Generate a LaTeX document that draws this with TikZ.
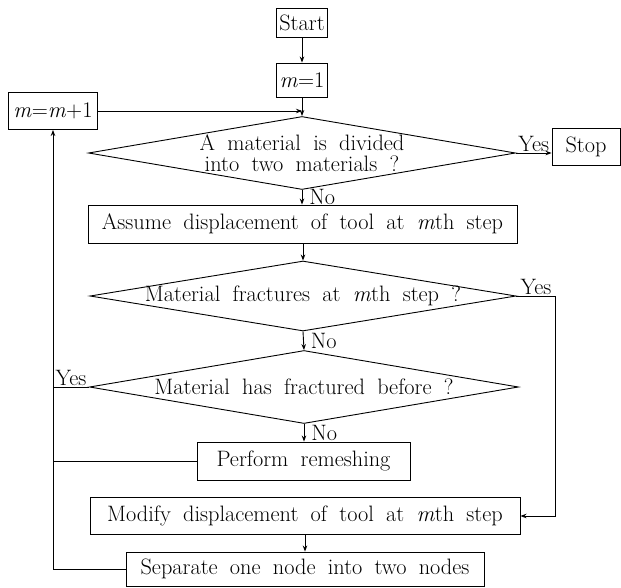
\documentclass[tikz,border=0pt]{standalone}
\usetikzlibrary{shapes.geometric,arrows.meta}
\newcommand\flowfont{\fontsize{22.3}{21.5}\selectfont\spaceskip=.55em\relax}
\begin{document}
\begin{tikzpicture}[x=1pt,y=1pt,
  every node/.style={font=\flowfont},
  box/.style={draw,line width=0.9pt,inner sep=0pt,align=center},
  dia/.style={draw,diamond,line width=0.9pt,inner sep=0pt},
  txt/.style={inner sep=0pt,align=center},
  lab/.style={inner sep=1pt},
  nolab/.style={anchor=west,xshift=7pt,inner sep=0pt},
  arr/.style={line width=0.9pt,-{Stealth[length=6pt,width=4.5pt]}},
  ln/.style={line width=0.9pt}]
\useasboundingbox (0,0) rectangle (621,-587);
\node[box,minimum width=51pt,minimum height=29pt] (start) at (302,-23) {Start};
\node[box,minimum width=51pt,minimum height=34pt] (m1) at (302,-80) {\textit{m}=1};
\node[box,minimum width=89pt,minimum height=37pt] (mm1) at (53,-111) {\textit{m}=\textit{m}+1};
\node[dia,minimum width=427pt,minimum height=73pt] (d1) at (302,-153) {};
\node[txt] (d1t) at (d1.center) {A material is divided\\into two materials ?};
\node[box,minimum width=68pt,minimum height=37pt] (stop) at (586,-147) {Stop};
\node[box,minimum width=429pt,minimum height=38pt] (assume) at (302.5,-224) {Assume displacement of tool at \textit{m}th step};
\node[dia,minimum width=426pt,minimum height=70pt] (d2) at (303,-296) {};
\node[txt] (d2t) at (d2.center) {Material fractures at \textit{m}th step ?};
\node[dia,minimum width=429pt,minimum height=73pt] (d3) at (304,-387) {};
\node[txt] (d3t) at (d3.center) {Material has fractured before ?};
\node[box,minimum width=213pt,minimum height=38pt] (perform) at (303.5,-461) {Perform remeshing};
\node[box,minimum width=430pt,minimum height=37pt] (modify) at (305,-516) {Modify displacement of tool at \textit{m}th step};
\node[box,minimum width=358pt,minimum height=34pt] (separate) at (305,-569) {Separate one node into two nodes};

\draw[arr] (start) -- (m1);
\draw[arr] (m1) -- (d1.north);
\draw[arr] (mm1.east) -- (mm1.east -| d1.north);
\draw[arr] (d1.east) -- node[lab,above]{Yes} (stop.west |- d1.east);
\draw[arr] (d1.south) -- node[nolab]{No} (d1.south |- assume.north);
\draw[arr] (assume.south -| d2.north) -- (d2.north);
\draw[arr] (d2.south) -- node[nolab]{No} (d3.north);
\draw[arr] (d3.south) -- node[nolab]{No} (d3.south |- perform.north);
\draw[arr] (modify.south) -- (modify.south |- separate.north);
\draw[ln] (d2.east) -- node[lab,above]{Yes} ++(39,0) coordinate (rc);
\draw[arr] (rc) |- (modify.east);
\draw[ln] (d3.west) -- node[lab,above]{Yes} (d3.west -| mm1.south);
\draw[ln] (perform.west) -- (perform.west -| mm1.south);
\draw[arr] (separate.west) -| (mm1.south);
\end{tikzpicture}
\end{document}
